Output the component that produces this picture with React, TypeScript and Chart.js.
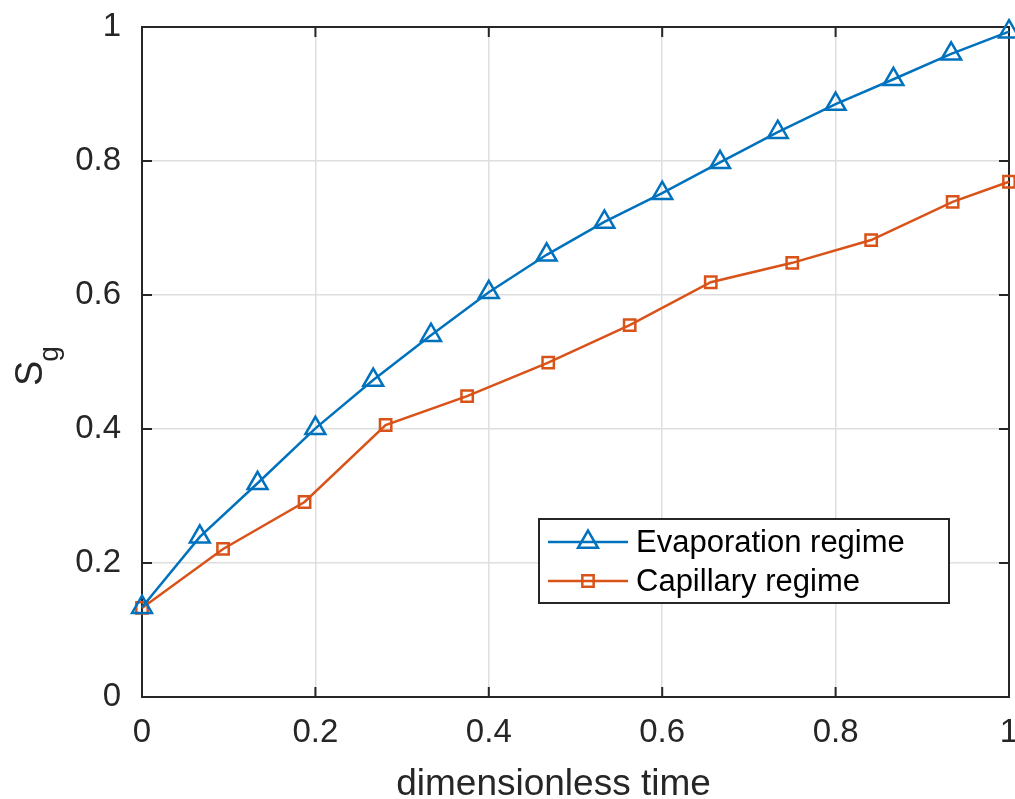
import React, { useEffect, useRef } from 'react';
import { Chart, registerables } from 'chart.js';

Chart.register(...registerables);

// ---- data ----
const evapTime = [0, 0.0667, 0.1333, 0.2, 0.2667, 0.3333, 0.4, 0.4667, 0.5333, 0.6, 0.6667, 0.7333, 0.8, 0.8667, 0.9333, 1];
const evapSg = [0.134, 0.239, 0.319, 0.401, 0.473, 0.54, 0.604, 0.66, 0.709, 0.752, 0.798, 0.843, 0.885, 0.922, 0.96, 0.993];
const capTime = [0, 0.0935, 0.1875, 0.281, 0.375, 0.4685, 0.5625, 0.656, 0.75, 0.841, 0.935, 1];
const capSg = [0.133, 0.221, 0.291, 0.406, 0.449, 0.499, 0.555, 0.619, 0.648, 0.682, 0.739, 0.769];
const seriesNames = ['Evaporation regime', 'Capillary regime'];
const xTickValues = [0, 0.2, 0.4, 0.6, 0.8, 1];
const xTickLabels = ['0', '0.2', '0.4', '0.6', '0.8', '1'];
const yTickValues = [0, 0.2, 0.4, 0.6, 0.8, 1];
const yTickLabels = ['0', '0.2', '0.4', '0.6', '0.8', '1'];
const xTitle = 'dimensionless time';
const yTitleMain = 'S';
const yTitleSub = 'g';

const FONT = '"Liberation Sans", Arial, Helvetica, sans-serif';
const INK = '#262626';
const BLUE = '#0072BD';
const ORANGE = '#D95319';

function drawTriangle(ctx: CanvasRenderingContext2D, x: number, y: number, r: number) {
  ctx.beginPath();
  ctx.moveTo(x, y - r);
  ctx.lineTo(x + 0.866 * r, y + 0.5 * r);
  ctx.lineTo(x - 0.866 * r, y + 0.5 * r);
  ctx.closePath();
  ctx.stroke();
}

function drawSquare(ctx: CanvasRenderingContext2D, x: number, y: number, r: number) {
  const s = Math.SQRT1_2 * r;
  ctx.beginPath();
  ctx.rect(x - s, y - s, 2 * s, 2 * s);
  ctx.stroke();
}

export default function App() {
  const ref = useRef<HTMLCanvasElement>(null);

  useEffect(() => {
    const canvas = ref.current;
    if (!canvas) return;

    const framePlugin = {
      id: 'matlabFrame',
      beforeDatasetsDraw(chart: any) {
        const { ctx, chartArea: a, scales } = chart;
        const x = scales.x;
        const y = scales.y;
        ctx.save();
        ctx.strokeStyle = INK;
        ctx.lineWidth = 2;
        ctx.strokeRect(a.left, a.top, a.right - a.left, a.bottom - a.top);
        ctx.beginPath();
        xTickValues.forEach((v) => {
          const px = x.getPixelForValue(v);
          ctx.moveTo(px, a.bottom);
          ctx.lineTo(px, a.bottom - 10);
          ctx.moveTo(px, a.top);
          ctx.lineTo(px, a.top + 10);
        });
        yTickValues.forEach((v) => {
          const py = y.getPixelForValue(v);
          ctx.moveTo(a.left, py);
          ctx.lineTo(a.left + 10, py);
          ctx.moveTo(a.right, py);
          ctx.lineTo(a.right - 10, py);
        });
        ctx.stroke();
        ctx.restore();
      },
      afterDatasetsDraw(chart: any) {
        const { ctx } = chart;
        ctx.save();
        // legend
        const lx = 539, ly = 519, lw = 410, lh = 84;
        ctx.fillStyle = '#ffffff';
        ctx.fillRect(lx, ly, lw, lh);
        ctx.strokeStyle = INK;
        ctx.lineWidth = 2;
        ctx.strokeRect(lx, ly, lw, lh);
        const rows = [
          { y: 542, color: BLUE, marker: 'tri' },
          { y: 581, color: ORANGE, marker: 'sq' },
        ];
        rows.forEach((r, i) => {
          ctx.strokeStyle = r.color;
          ctx.lineWidth = 2.5;
          ctx.beginPath();
          ctx.moveTo(548, r.y);
          ctx.lineTo(628, r.y);
          ctx.stroke();
          if (r.marker === 'tri') drawTriangle(ctx, 588, r.y, 11.5);
          else drawSquare(ctx, 588, r.y, 8);
          ctx.fillStyle = '#000000';
          ctx.font = `31px ${FONT}`;
          ctx.textAlign = 'left';
          ctx.textBaseline = 'middle';
          ctx.fillText(seriesNames[i], 636, r.y + 1);
        });
        // x title
        ctx.fillStyle = INK;
        ctx.font = `37px ${FONT}`;
        ctx.textAlign = 'center';
        ctx.textBaseline = 'alphabetic';
        ctx.fillText(xTitle, 553.5, 795);
        // y title with subscript
        ctx.translate(42, 386);
        ctx.rotate(-Math.PI / 2);
        ctx.textAlign = 'left';
        ctx.font = `38px ${FONT}`;
        ctx.fillText(yTitleMain, 0, 0);
        const w = ctx.measureText(yTitleMain).width;
        ctx.font = `28px ${FONT}`;
        ctx.fillText(yTitleSub, w - 1, 16);
        ctx.restore();
      },
    };

    const chart = new Chart(canvas, {
      type: 'line',
      data: {
        datasets: [
          {
            label: seriesNames[0],
            data: evapTime.map((t, i) => ({ x: t, y: evapSg[i] })),
            borderColor: BLUE,
            backgroundColor: 'rgba(0,0,0,0)',
            borderWidth: 2.5,
            pointStyle: 'triangle',
            pointRadius: 11.5,
            pointBorderWidth: 2.5,
            pointBorderColor: BLUE,
            pointBackgroundColor: 'rgba(0,0,0,0)',
            clip: false as any,
            tension: 0,
          },
          {
            label: seriesNames[1],
            data: capTime.map((t, i) => ({ x: t, y: capSg[i] })),
            borderColor: ORANGE,
            backgroundColor: 'rgba(0,0,0,0)',
            borderWidth: 2.5,
            pointStyle: 'rect',
            pointRadius: 8,
            pointBorderWidth: 2.5,
            pointBorderColor: ORANGE,
            pointBackgroundColor: 'rgba(0,0,0,0)',
            clip: false as any,
            tension: 0,
          },
        ],
      },
      options: {
        responsive: false,
        animation: false,
        layout: { autoPadding: false, padding: { top: 27, right: 6, left: 0, bottom: 0 } },
        plugins: {
          legend: { display: false },
          tooltip: { enabled: false },
        },
        scales: {
          x: {
            type: 'linear',
            min: 0,
            max: 1,
            border: { display: false },
            grid: { color: '#dedede', lineWidth: 1.5, drawTicks: false },
            afterBuildTicks: (scale: any) => {
              scale.ticks = xTickValues.map((v) => ({ value: v }));
            },
            afterFit: (scale: any) => {
              scale.height = 102;
              scale.paddingLeft = 0;
              scale.paddingRight = 0;
            },
            ticks: {
              padding: 16,
              color: INK,
              font: { family: FONT, size: 33 },
              maxRotation: 0,
              autoSkip: false,
              callback: (_v: any, i: number) => xTickLabels[i],
            },
          },
          y: {
            type: 'linear',
            min: 0,
            max: 1,
            border: { display: false },
            grid: { color: '#dedede', lineWidth: 1.5, drawTicks: false },
            afterBuildTicks: (scale: any) => {
              scale.ticks = yTickValues.map((v) => ({ value: v }));
            },
            afterFit: (scale: any) => {
              scale.width = 142;
              scale.paddingTop = 0;
              scale.paddingBottom = 0;
            },
            ticks: {
              padding: 21,
              color: INK,
              font: { family: FONT, size: 33 },
              autoSkip: false,
              callback: (_v: any, i: number) => yTickLabels[i],
            },
          },
        },
      },
      plugins: [framePlugin],
    });

    return () => chart.destroy();
  }, []);

  return (
    <div style={{ position: 'fixed', left: 0, top: 0, width: 1015, height: 799, background: '#ffffff' }}>
      <canvas ref={ref} width={1015} height={799} style={{ display: 'block' }} />
    </div>
  );
}
